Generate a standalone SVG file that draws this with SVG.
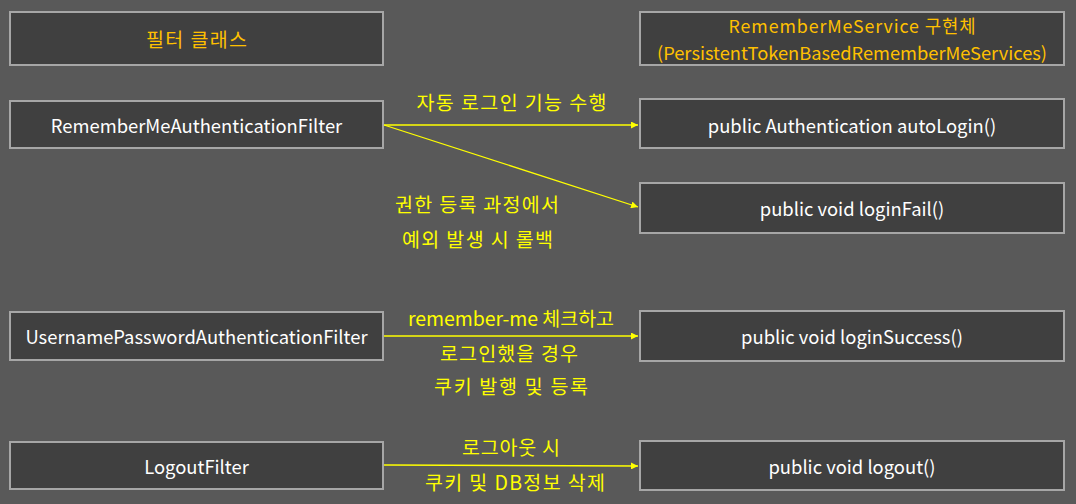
<svg xmlns="http://www.w3.org/2000/svg" width="1076" height="504" viewBox="0 0 1076 504">
<defs>
<style>
.box{fill:#404040;stroke:#A6A6A6;stroke-width:2}
.t{font-family:"Noto Sans CJK KR","Noto Sans",sans-serif;font-size:18.4px;text-anchor:middle;dominant-baseline:central}
.k{font-size:19.5px}
.s{font-size:17.8px}
.w{fill:#FFFFFF}
.o{fill:#FFC000}
.y{fill:#FFFF00}
.c{stroke:#FFFF00;stroke-width:1.3;fill:none}
</style>
<marker id="ah" viewBox="0 0 10 10" refX="10" refY="5" markerWidth="7" markerHeight="7" markerUnits="userSpaceOnUse" orient="auto"><path d="M0,0 L10,5 L0,10 z" fill="#FFFF00"/></marker>
</defs>
<rect width="1076" height="504" fill="#595959"/>
<g id="n-filter-class"><rect class="box" x="10" y="12" width="373" height="53"/><text class="t k o" x="196.5" y="38.5" textLength="101" lengthAdjust="spacing">필터 클래스</text></g>
<g id="n-service-impl"><rect class="box" x="640" y="12" width="424" height="53"/><text class="t s o" x="852" y="25" textLength="247" lengthAdjust="spacing">RememberMeService 구현체</text><text class="t s o" x="852" y="51.5" textLength="390" lengthAdjust="spacingAndGlyphs">(PersistentTokenBasedRememberMeServices)</text></g>
<g id="n-rememberme-filter"><rect class="box" x="10" y="101" width="373" height="47"/><text class="t w" x="196.5" y="124.5">RememberMeAuthenticationFilter</text></g>
<g id="n-autologin"><rect class="box" x="640" y="99" width="424" height="49"/><text class="t w" x="852" y="125">public Authentication autoLogin()</text></g>
<g id="n-loginfail"><rect class="box" x="640" y="183" width="424" height="50"/><text class="t w" x="852" y="208">public void loginFail()</text></g>
<g id="n-userpass-filter"><rect class="box" x="10" y="312" width="373" height="48"/><text class="t w" x="196.5" y="336">UsernamePasswordAuthenticationFilter</text></g>
<g id="n-loginsuccess"><rect class="box" x="640" y="311" width="424" height="50"/><text class="t w" x="852" y="336">public void loginSuccess()</text></g>
<g id="n-logout-filter"><rect class="box" x="10" y="442" width="373" height="47"/><text class="t w" x="196.5" y="466">LogoutFilter</text></g>
<g id="n-logout"><rect class="box" x="640" y="441" width="424" height="49"/><text class="t w" x="852" y="466">public void logout()</text></g>
<g id="connectors">
<line class="c" x1="384" y1="125" x2="638" y2="125" marker-end="url(#ah)"/>
<line class="c" x1="384" y1="125" x2="638" y2="207" marker-end="url(#ah)"/>
<line class="c" x1="384" y1="336" x2="638" y2="336" marker-end="url(#ah)"/>
<line class="c" x1="384" y1="465" x2="638" y2="466" marker-end="url(#ah)"/>
</g>
<g id="labels">
<text class="t k y" x="511.5" y="101" textLength="190" lengthAdjust="spacing">자동 로그인 기능 수행</text>
<text class="t k y" x="477" y="203" textLength="164" lengthAdjust="spacing">권한 등록 과정에서</text>
<text class="t k y" x="477.5" y="238" textLength="151" lengthAdjust="spacing">예외 발생 시 롤백</text>
<text class="t k y" x="511" y="317" textLength="206" lengthAdjust="spacing">remember-me 체크하고</text>
<text class="t k y" x="509" y="352" textLength="138" lengthAdjust="spacing">로그인했을 경우</text>
<text class="t k y" x="511" y="385" textLength="154" lengthAdjust="spacing">쿠키 발행 및 등록</text>
<text class="t k y" x="511" y="446" textLength="98" lengthAdjust="spacing">로그아웃 시</text>
<text class="t k y" x="515" y="481" textLength="180" lengthAdjust="spacing">쿠키 및 DB정보 삭제</text>
</g>
</svg>
